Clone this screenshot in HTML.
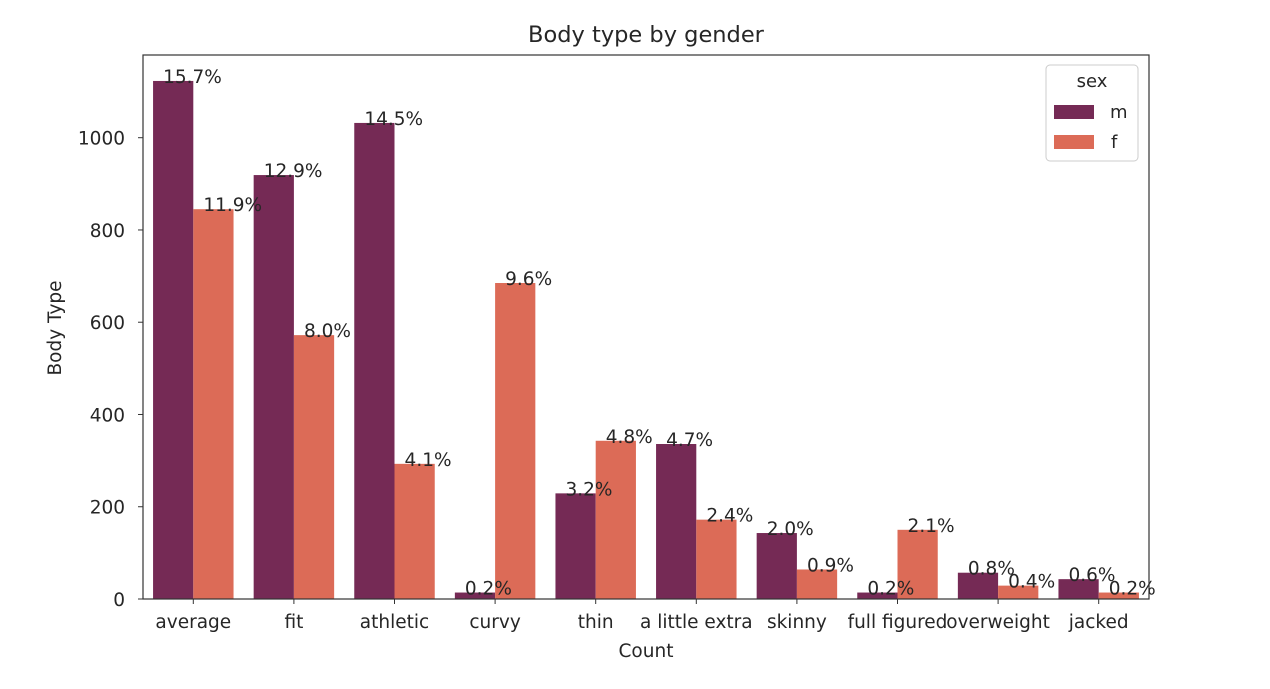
<!DOCTYPE html>
<html><head><meta charset="utf-8"><style>
body{margin:0;background:#fff;}
svg text{font-family:"DejaVu Sans","Liberation Sans",sans-serif;fill:#262626;}
</style></head><body>
<svg width="1270" height="684" viewBox="0 0 1270 684">
<text x="646" y="42" text-anchor="middle" font-size="22.5">Body type by gender</text>
<g id="plot"></g>
<text x="646" y="657" text-anchor="middle" font-size="18.5">Count</text>
<text transform="translate(61,328) rotate(-90)" text-anchor="middle" font-size="18.5">Body Type</text>
<g>
<rect x="1046" y="65" width="92" height="96" rx="4" fill="#fff" stroke="#ccc"/>
<text x="1092" y="87" text-anchor="middle" font-size="18">sex</text>
<rect x="1054" y="105" width="40" height="14" fill="#752a55"/>
<text x="1110" y="118" font-size="18">m</text>
<rect x="1054" y="135" width="40" height="14" fill="#dc6b57"/>
<text x="1111" y="148" font-size="18">f</text>
</g>
</svg>
<script>
const categories=["average","fit","athletic","curvy","thin","a little extra","skinny","full figured","overweight","jacked"];
const maleCounts=[1123,919,1032,14,229,336,143,14,57,43];
const femaleCounts=[845,572,293,685,343,172,64,150,29,14];
const malePct=["15.7%","12.9%","14.5%","0.2%","3.2%","4.7%","2.0%","0.2%","0.8%","0.6%"];
const femalePct=["11.9%","8.0%","4.1%","9.6%","4.8%","2.4%","0.9%","2.1%","0.4%","0.2%"];
const yTicks=[0,200,400,600,800,1000];
const L=143,R=1149,T=55,B=599,step=(R-L)/categories.length,ppu=461.3/1000;
const xc=i=>L+step*(i+0.5), y=v=>B-v*ppu;
const ns="http://www.w3.org/2000/svg",g=document.getElementById('plot');
function mk(t,a){const e=document.createElementNS(ns,t);for(const k in a)e.setAttribute(k,a[k]);g.appendChild(e);return e;}
const bw=step*0.4;
const series=[[maleCounts,malePct,'#752a55','m',-1],[femaleCounts,femalePct,'#dc6b57','f',0]];
categories.forEach((c,i)=>{
 series.forEach(([vals,pcts,col,s,off])=>{
  const x0=xc(i)+off*bw;
  const r=mk('rect',{x:x0,y:y(vals[i]),width:bw,height:B-y(vals[i]),fill:col});
  
  
 });
 mk('line',{x1:xc(i),x2:xc(i),y1:B,y2:B+5,stroke:'#333'});
 const tl=mk('text',{x:xc(i),y:B+29,'text-anchor':'middle','font-size':18.5});
 tl.textContent=c;
 
 
});
categories.forEach((c,i)=>{
 series.forEach(([vals,pcts,col,s,off])=>{
  const x0=xc(i)+off*bw;
  const t=mk('text',{x:x0+bw/4,y:y(vals[i])+2,'font-size':18.5});
  t.textContent=pcts[i];
  
  
 });
});
yTicks.forEach(v=>{
 mk('line',{x1:L-5,x2:L,y1:y(v),y2:y(v),stroke:'#333'});
 const t=mk('text',{x:L-18,y:y(v)+7,'text-anchor':'end','font-size':18.5});
 t.textContent=v;
 
 
});
const fr=mk('rect',{x:L,y:T,width:R-L,height:B-T,fill:'none',stroke:'#333','stroke-width':1.2});


</script>
</body></html>
